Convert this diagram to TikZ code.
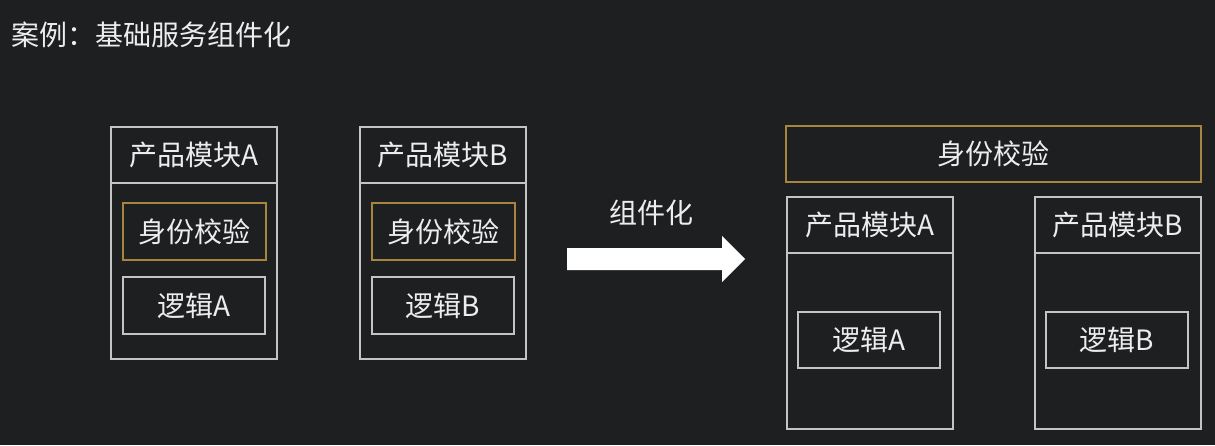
\documentclass[tikz,border=0pt]{standalone}
\usepackage{fontspec}
\setmainfont{Noto Sans CJK SC}
\begin{document}
\begin{tikzpicture}[x=1pt,y=-1pt,
  txt/.style={text=textwhite,font=\fontsize{28}{32}\selectfont,inner sep=0pt},
  frame/.style={draw=linegray,line width=1.2pt},
  authbox/.style={draw=authorange,line width=1.2pt},
]
\definecolor{bg}{HTML}{1E1F21}
\definecolor{linegray}{HTML}{C4C4C4}
\definecolor{authorange}{HTML}{A8843E}
\definecolor{textwhite}{HTML}{EDEDED}
\fill[bg] (0,0) rectangle (1215,445);
\useasboundingbox (0,0) rectangle (1215,445);

% title
\node[txt,anchor=west] (title) at (11,35) {案例：基础服务组件化};

% --- before: two modules, each with its own auth check ---
\foreach \n/\x/\l in {a/111/A,b/360/B}{
  \draw[frame] (\x,127) rectangle ++(166,232);
  \draw[frame] (\x,183) -- ++(166,0);
  \node[txt] (head\n) at (\x+83,155) {产品模块\l};
  \draw[authbox] (\x+12,203) rectangle ++(143,57);
  \node[txt] (auth\n) at (\x+83.5,231.5) {身份校验};
  \draw[frame] (\x+12,277) rectangle ++(142,57);
  \node[txt] (logic\n) at (\x+83,305.5) {逻辑\l};
}

% --- transition arrow ---
\fill[white] (567,248) -- (722,248) -- (722,236) -- (745,259)
  -- (722,282) -- (722,270) -- (567,270) -- cycle;
\node[txt] (arrowlabel) at (651,213) {组件化};

% --- after: shared auth component above the modules ---
\draw[authbox] (786,126) rectangle (1201,182);
\node[txt] (shared) at (993.5,154) {身份校验};
\foreach \n/\x/\l in {a/787/A,b/1035/B}{
  \draw[frame] (\x,197) rectangle ++(166,232);
  \draw[frame] (\x,253) -- ++(166,0);
  \node[txt] (rhead\n) at (\x+83,225) {产品模块\l};
  \draw[frame] (\x+11,312) rectangle ++(142,56);
  \node[txt] (rlogic\n) at (\x+82,340) {逻辑\l};
}
\end{tikzpicture}
\end{document}
